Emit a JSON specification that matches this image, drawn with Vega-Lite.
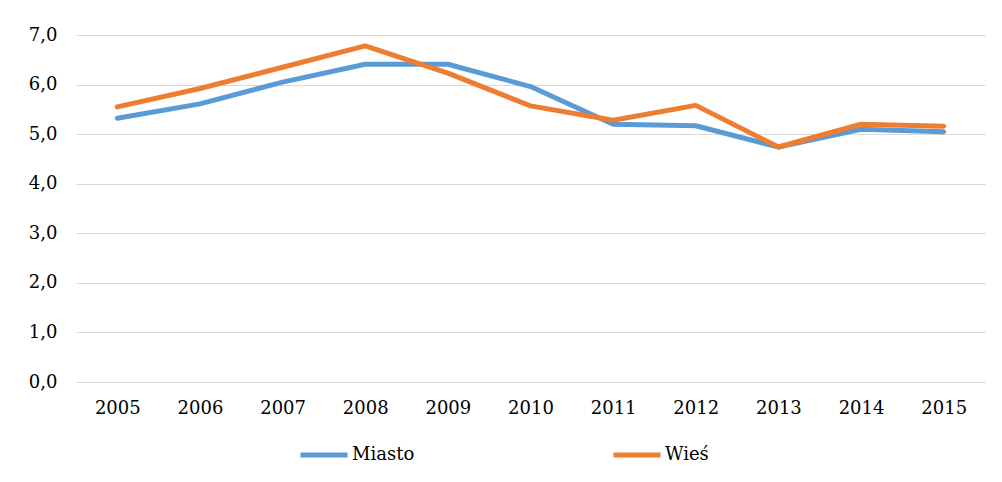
{
  "$schema": "https://vega.github.io/schema/vega-lite/v6.json",
  "autosize": "none",
  "width": 909,
  "height": 347,
  "padding": {"left": 76, "top": 35, "right": 17, "bottom": 100},
  "background": "white",
  "config": {
    "view": {"stroke": null},
    "font": "DejaVu Serif"
  },
  "data": {
    "values": [
      {"rok": "2005", "seria": "Miasto", "wartosc": 5.32},
      {"rok": "2006", "seria": "Miasto", "wartosc": 5.61},
      {"rok": "2007", "seria": "Miasto", "wartosc": 6.05},
      {"rok": "2008", "seria": "Miasto", "wartosc": 6.41},
      {"rok": "2009", "seria": "Miasto", "wartosc": 6.41},
      {"rok": "2010", "seria": "Miasto", "wartosc": 5.96},
      {"rok": "2011", "seria": "Miasto", "wartosc": 5.2},
      {"rok": "2012", "seria": "Miasto", "wartosc": 5.17},
      {"rok": "2013", "seria": "Miasto", "wartosc": 4.74},
      {"rok": "2014", "seria": "Miasto", "wartosc": 5.1},
      {"rok": "2015", "seria": "Miasto", "wartosc": 5.05},
      {"rok": "2005", "seria": "Wieś", "wartosc": 5.55},
      {"rok": "2006", "seria": "Wieś", "wartosc": 5.92},
      {"rok": "2007", "seria": "Wieś", "wartosc": 6.35},
      {"rok": "2008", "seria": "Wieś", "wartosc": 6.78},
      {"rok": "2009", "seria": "Wieś", "wartosc": 6.23},
      {"rok": "2010", "seria": "Wieś", "wartosc": 5.57},
      {"rok": "2011", "seria": "Wieś", "wartosc": 5.28},
      {"rok": "2012", "seria": "Wieś", "wartosc": 5.58},
      {"rok": "2013", "seria": "Wieś", "wartosc": 4.74},
      {"rok": "2014", "seria": "Wieś", "wartosc": 5.2},
      {"rok": "2015", "seria": "Wieś", "wartosc": 5.16}
    ]
  },
  "mark": {"type": "line", "strokeWidth": 5, "strokeCap": "round", "strokeJoin": "round"},
  "encoding": {
    "x": {
      "field": "rok",
      "type": "ordinal",
      "scale": {"type": "point", "padding": 0.5},
      "axis": {
        "title": null,
        "labelAngle": 0,
        "domain": false,
        "ticks": false,
        "grid": false,
        "labelFont": "DejaVu Serif",
        "labelFontSize": 18,
        "labelColor": "#000000",
        "labelPadding": 17
      }
    },
    "y": {
      "field": "wartosc",
      "type": "quantitative",
      "scale": {"domain": [0, 7], "nice": false, "zero": true},
      "axis": {
        "title": null,
        "values": [0, 1, 2, 3, 4, 5, 6, 7],
        "labelExpr": "replace(format(datum.value, '.1f'), '.', ',')",
        "domain": false,
        "ticks": false,
        "grid": true,
        "gridColor": "#D9D9D9",
        "gridWidth": 1.2,
        "labelFont": "DejaVu Serif",
        "labelFontSize": 18,
        "labelColor": "#000000",
        "labelPadding": 19
      }
    },
    "color": {
      "field": "seria",
      "type": "nominal",
      "scale": {"domain": ["Miasto", "Wieś"], "range": ["#5B9BD5", "#ED7D31"]},
      "legend": {
        "title": null,
        "orient": "none",
        "direction": "horizontal",
        "legendX": 222,
        "legendY": 394,
        "symbolType": "stroke",
        "symbolSize": 2209,
        "symbolStrokeWidth": 5,
        "labelFont": "DejaVu Serif",
        "labelFontSize": 18,
        "labelColor": "#000000",
        "labelOffset": 2,
        "columnPadding": 188
      }
    }
  }
}
